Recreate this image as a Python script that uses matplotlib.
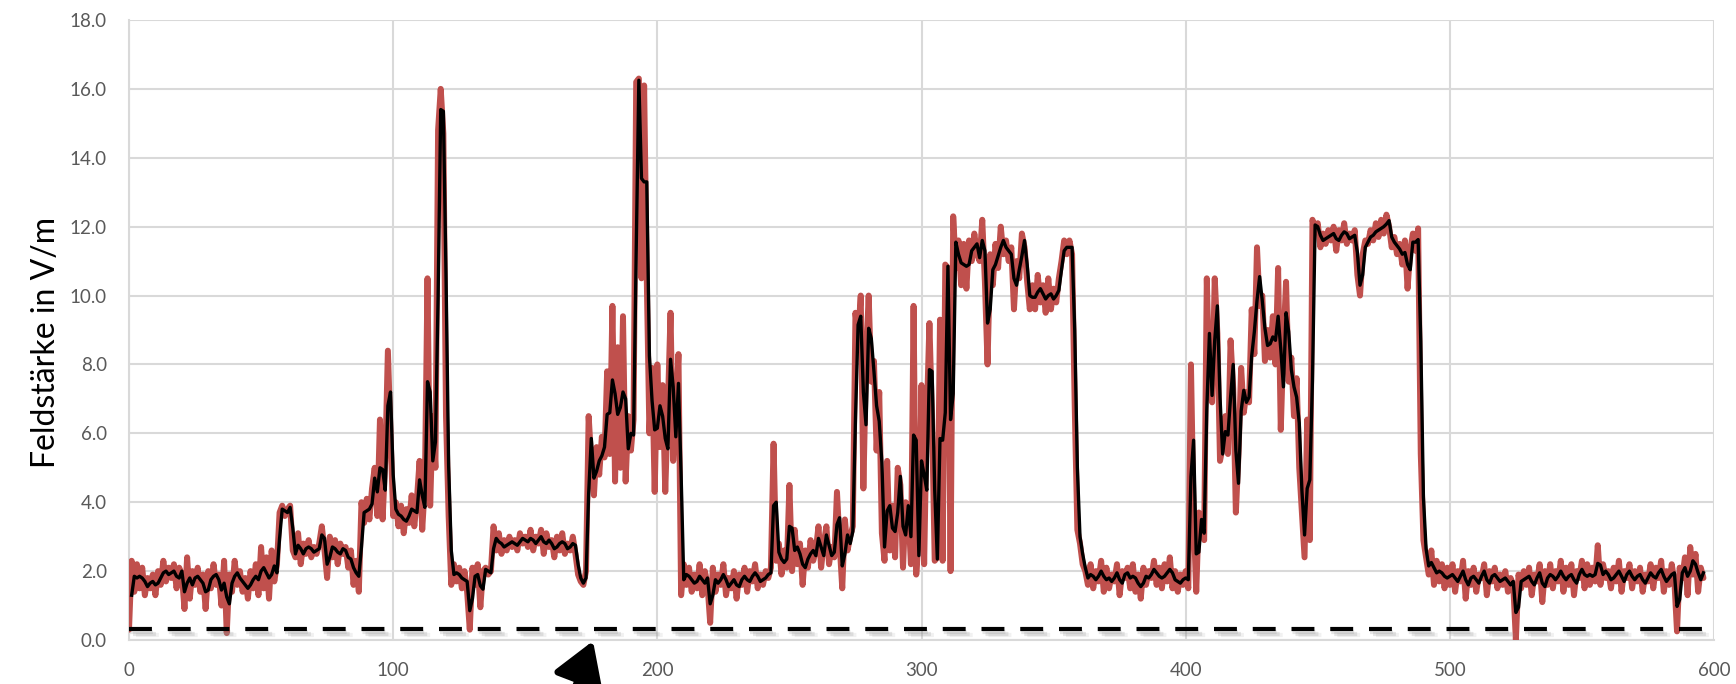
import matplotlib
matplotlib.use("Agg")
import matplotlib.pyplot as plt
import matplotlib.patheffects as pe
import numpy as np
import pandas as pd

# ---- data ----
feld_000 = [0.3, 2.3, 1.4, 2.2, 1.5, 2.1, 1.3, 1.8, 1.5, 1.9,
            1.3, 2.0, 1.6, 2.3, 1.7, 2.1, 1.8, 2.2, 1.5, 2.1,
            1.9, 0.9, 2.4, 1.2, 2.0, 1.6, 2.1, 1.4, 1.9, 0.9,
            2.0, 1.5, 2.2, 1.6, 1.9, 1.0, 2.3, 0.2, 1.9, 1.4,
            2.3, 1.6, 2.0, 1.4, 1.8, 1.2, 2.0, 1.5, 2.2, 1.3,
            2.7, 1.5, 2.4, 1.2, 2.6, 1.7, 2.2, 3.7, 3.9, 3.6,
            3.8, 3.9, 2.6, 2.4, 3.1, 2.2, 2.8, 2.5, 2.9, 2.4,
            2.7, 2.5, 2.8, 3.3, 2.6, 1.8, 3.0, 2.4, 2.9, 2.2,
            2.8, 2.5, 2.7, 2.1, 2.6, 1.6, 2.3, 1.4, 4.0, 3.4,
            4.1, 3.5, 4.4, 5.0, 3.6, 6.4, 3.5, 5.2, 8.4, 6.0]
feld_100 = [3.6, 4.0, 3.3, 3.9, 3.1, 3.8, 3.4, 4.2, 3.3, 4.1,
            5.2, 3.2, 4.5, 10.5, 3.9, 6.5, 5.0, 14.8, 16.0, 14.7,
            6.5, 3.6, 1.6, 2.2, 1.7, 2.1, 1.5, 2.0, 1.4, 0.3,
            2.1, 1.6, 2.2, 0.95, 2.0, 2.1, 1.9, 2.0, 3.3, 2.6,
            3.1, 2.5, 2.9, 2.6, 3.0, 2.7, 2.9, 2.6, 3.1, 2.8,
            3.0, 2.7, 3.2, 2.6, 3.0, 2.8, 3.2, 2.5, 3.1, 2.7,
            2.9, 2.4, 3.0, 2.6, 3.1, 2.5, 2.8, 2.6, 3.0, 2.5,
            1.9, 1.7, 1.6, 2.0, 6.5, 5.2, 4.2, 5.6, 4.8, 5.9,
            5.3, 7.8, 5.4, 9.7, 4.6, 8.5, 5.0, 9.4, 4.6, 6.5,
            5.5, 6.4, 16.2, 16.3, 10.5, 16.1, 10.5, 6.0, 7.9, 4.3]
feld_200 = [8.0, 5.6, 7.4, 4.3, 6.8, 9.5, 5.2, 6.6, 8.3, 1.3,
            2.2, 1.6, 2.1, 1.4, 1.9, 1.5, 2.2, 1.3, 2.0, 1.6,
            0.5, 2.1, 1.4, 1.9, 1.6, 2.2, 1.3, 1.8, 1.5, 2.0,
            1.2, 1.9, 1.6, 2.1, 1.4, 2.0, 1.7, 2.2, 1.5, 1.9,
            1.6, 2.0, 1.8, 2.1, 5.7, 2.3, 2.8, 1.9, 2.6, 2.1,
            4.5, 2.0, 3.2, 2.2, 2.8, 1.6, 2.6, 2.1, 2.9, 2.3,
            2.6, 3.3, 2.1, 2.8, 3.3, 2.2, 2.7, 2.4, 4.3, 2.8,
            1.5, 3.5, 2.6, 3.0, 3.3, 9.5, 8.8, 10.0, 4.4, 8.1,
            10.0, 7.5, 8.1, 5.5, 7.2, 3.1, 2.3, 5.2, 2.6, 3.9,
            2.4, 5.0, 4.5, 2.1, 4.0, 3.8, 2.2, 9.7, 1.9, 3.0]
feld_300 = [7.4, 2.2, 6.5, 9.2, 6.4, 2.3, 2.4, 9.3, 2.3, 10.9,
            10.8, 2.0, 12.3, 10.8, 11.6, 10.3, 11.5, 10.2, 11.6, 11.0,
            11.8, 11.2, 11.0, 12.2, 10.4, 8.0, 11.2, 10.3, 11.5, 10.8,
            12.0, 11.2, 11.6, 11.0, 11.4, 9.6, 11.0, 10.5, 11.8, 11.4,
            10.4, 9.6, 10.3, 9.6, 10.6, 9.8, 10.3, 9.5, 10.5, 9.6,
            10.2, 9.8, 10.5, 11.0, 11.6, 11.2, 11.6, 11.2, 6.8, 3.2,
            2.8, 2.2, 2.0, 1.6, 2.2, 1.5, 2.0, 1.7, 2.3, 1.4,
            2.1, 1.5, 1.9, 1.7, 2.2, 1.3, 2.0, 1.8, 2.1, 1.5,
            2.2, 1.4, 1.9, 1.2, 2.1, 1.6, 2.0, 1.8, 2.3, 1.6,
            2.1, 1.5, 2.2, 1.7, 2.4, 1.5, 2.0, 1.4, 1.9, 1.6]
feld_400 = [2.0, 1.5, 8.0, 3.6, 1.4, 3.7, 3.3, 2.9, 10.5, 7.3,
            6.9, 10.5, 8.9, 5.2, 5.6, 6.5, 5.4, 8.7, 7.3, 3.7,
            5.4, 7.9, 6.6, 7.2, 6.9, 9.6, 8.3, 11.4, 9.7, 10.0,
            8.1, 9.0, 8.2, 9.4, 8.0, 10.8, 6.1, 8.6, 10.4, 7.5,
            8.2, 6.5, 7.6, 5.0, 3.7, 2.4, 6.4, 2.9, 12.2, 11.9,
            12.1, 11.4, 11.8, 11.5, 11.9, 11.6, 12.0, 11.3, 11.9, 11.6,
            12.1, 11.5, 11.8, 11.6, 11.9, 10.6, 10.0, 11.2, 11.6, 11.5,
            11.9, 11.6, 12.1, 11.7, 12.2, 11.8, 12.35, 12.0, 11.4, 11.7,
            11.2, 11.5, 10.9, 11.6, 10.2, 11.3, 11.8, 11.3, 11.95, 5.4,
            2.9, 2.4, 1.9, 2.6, 1.6, 2.3, 1.7, 2.2, 1.5, 2.1]
feld_500 = [1.6, 2.2, 1.4, 2.0, 1.7, 2.3, 1.2, 2.0, 1.6, 2.1,
            1.4, 1.9, 1.8, 2.2, 1.3, 2.0, 1.7, 2.1, 1.5, 1.9,
            1.6, 2.0, 1.4, 1.8, 1.6, 0.0, 1.9, 1.5, 2.0, 1.6,
            2.1, 1.3, 1.9, 1.7, 2.2, 1.1, 2.0, 1.6, 2.2, 1.5,
            2.0, 1.7, 2.3, 1.4, 2.1, 1.6, 2.2, 1.3, 2.0, 1.8,
            2.3, 1.5, 2.2, 1.6, 2.1, 1.7, 2.75, 1.6, 2.2, 1.8,
            2.0, 1.5, 2.1, 1.7, 2.3, 1.4, 2.0, 1.8, 2.2, 1.5,
            2.0, 1.7, 2.1, 1.4, 1.9, 1.7, 2.2, 1.5, 2.1, 1.8,
            2.3, 1.4, 2.0, 1.6, 2.2, 1.7, 0.25, 2.1, 1.8, 2.4,
            1.3, 2.7, 1.9, 2.5, 1.4, 2.1, 1.8]
grenzwert = 0.33          # dashed reference line
ma_fenster = 2            # moving-average period of the black trend line
y_ticks = [0, 2, 4, 6, 8, 10, 12, 14, 16, 18]
x_ticks = [0, 100, 200, 300, 400, 500, 600]
y_label = "Feldstärke in V/m"

werte = np.array(feld_000 + feld_100 + feld_200 + feld_300 + feld_400 + feld_500)
zeit = np.arange(len(werte))
trend = pd.Series(werte).rolling(ma_fenster).mean()

# ---- figure ----
plt.rcParams['font.family'] = ['Lato', 'DejaVu Sans']
W, H = 1736, 684
fig = plt.figure(figsize=(W / 100, H / 100), dpi=100)
ax = fig.add_axes([129 / W, 1 - 640 / H, (1714 - 129) / W, (640 - 20) / H])

grid_c = '#d9d9d9'
ax.set_xlim(0, 600)
ax.set_ylim(0, 18)
ax.set_xticks(x_ticks)
ax.set_yticks(y_ticks)
ax.set_yticklabels([f"{v:.1f}" for v in y_ticks])
ax.grid(True, color=grid_c, linewidth=1.5)
ax.set_axisbelow(True)
for s in ['top', 'right']:
    ax.spines[s].set_visible(False)
for s in ['left', 'bottom']:
    ax.spines[s].set_color(grid_c)
    ax.spines[s].set_linewidth(1.5)
ax.tick_params(axis='both', length=0, labelsize=13.5, labelcolor='#595959')
ax.tick_params(axis='y', pad=16)
ax.tick_params(axis='x', pad=16)

ax.plot(zeit, werte, color='#c0504d', linewidth=4.3, solid_joinstyle='round',
        solid_capstyle='round', zorder=3)
ax.plot(zeit, trend, color='black', linewidth=2.4, solid_joinstyle='round', zorder=4)

shadow = [pe.SimpleLineShadow(offset=(1, -2.5), shadow_color='#909090', alpha=0.22),
          pe.SimpleLineShadow(offset=(3, -4), shadow_color='#909090', alpha=0.22),
          pe.SimpleLineShadow(offset=(5, -4.5), shadow_color='#909090', alpha=0.12),
          pe.Normal()]
ax.axhline(grenzwert, color='black', linewidth=3.0, dashes=(5.5, 3.8), zorder=5,
           path_effects=shadow)

fig.text(46 / W, 1 - 342 / H, y_label, rotation=90, ha='center', va='center',
         fontsize=23, color='black')

# arrow at the bottom
ax.annotate('', xy=(593, H - 641), xycoords='figure pixels',
            xytext=(562, H - 722), textcoords='figure pixels',
            annotation_clip=False,
            arrowprops=dict(arrowstyle='-|>,head_length=0.42,head_width=0.26',
                            mutation_scale=60, lw=5, color='black',
                            shrinkA=0, shrinkB=0))

fig.savefig('out.png', dpi=100)
